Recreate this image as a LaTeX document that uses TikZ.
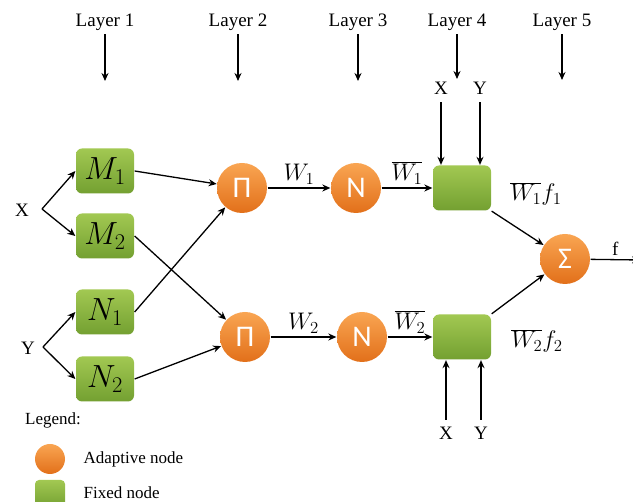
\documentclass[tikz,border=0pt]{standalone}
\usepackage{fix-cm}
\usepackage{fontspec}
\setmainfont{Liberation Serif}
\newfontfamily\opfont{Carlito}
\usetikzlibrary{arrows.meta}
\definecolor{adaptivetop}{HTML}{F9A552}
\definecolor{adaptivebot}{HTML}{E2701A}
\definecolor{fixedtop}{HTML}{A2C852}
\definecolor{fixedbot}{HTML}{73A031}
\tikzset{
	every path/.style={line width=1.3pt},
	adaptive/.style={
		circle,
		minimum size=50pt,
		inner sep=0pt,
		top color=adaptivetop,
		bottom color=adaptivebot,
		text=white,
		font=\opfont\fontsize{30}{30}\selectfont
	},
	fixed/.style={
		rectangle,
		rounded corners=6pt,
		minimum width=58pt,
		minimum height=45pt,
		inner sep=0pt,
		top color=fixedtop,
		bottom color=fixedbot,
		font=\fontsize{32}{32}\selectfont
	},
	link/.style={-{Stealth[length=8pt,width=7pt]}},
	layer/.style={font=\fontsize{19}{19}\selectfont},
	weight/.style={font=\fontsize{24}{24}\selectfont},
	key/.style={font=\fontsize{17}{17}\selectfont, anchor=west, inner sep=0pt},
}

\begin{document}
\begin{tikzpicture}[x=1pt,y=-1pt]
		\useasboundingbox (0,0) rectangle (633,502);

		% layers
		\node[layer] (lay1) at (105,22) {Layer 1};
		\node[layer] (lay2) at (238,22) {Layer 2};
		\node[layer] (lay3) at (358,22) {Layer 3};
		\node[layer] (lay4) at (457,22) {Layer 4};
		\node[layer] (lay5) at (562,22) {Layer 5};
		\coordinate (lay1e) at (105,81);
		\coordinate (lay2e) at (238,81);
		\coordinate (lay3e) at (358,81);
		\coordinate (lay4e) at (457,79);
		\coordinate (lay5e) at (562,80);
		\draw[link] (lay1) -- (lay1e);
		\draw[link] (lay2) -- (lay2e);
		\draw[link] (lay3) -- (lay3e);
		\draw[link] (lay4) -- (lay4e);
		\draw[link] (lay5) -- (lay5e);

		% inputs
		\node[layer] (x) at (22,210) {X};
		\node[layer] (y) at (28,348) {Y};
		\coordinate (xfork) at (42,209);
		\coordinate (yfork) at (43,347);

		\node[fixed] (m1) at (105,171) {$M_1$};
		\node[fixed] (m2) at (105,236) {$M_2$};
		\node[fixed] (n1) at (105,312) {$N_1$};
		\node[fixed] (n2) at (105,379) {$N_2$};

		\node[adaptive] (pi1) at (242,188) {Π};
		\node[adaptive] (pi2) at (245,337) {Π};
		\node[adaptive] (norm1) at (356,188) {N};
		\node[adaptive] (norm2) at (362,337) {N};

		\node[fixed] (rule1) at (462,188) {};
		\node[fixed] (rule2) at (462,337) {};

		\node[adaptive] (sum) at (565,259) {Σ};
		\coordinate (fout) at (640,260);

		\draw[link] (xfork) -- (m1.west);
		\draw[link] (xfork) -- (m2.west);
		\draw[link] (yfork) -- (n1.west);
		\draw[link] (yfork) -- (n2.west);

		\draw[link] (m1.east) -- (pi1);
		\draw[link] (n1.east) -- (pi1);
		\draw[link] (m2.east) -- (pi2);
		\draw[link] (n2.east) -- (pi2);

		\draw[link] (pi1) -- node[weight,above] {$W_1$} (norm1);
		\draw[link] (pi2) -- node[weight,above] {$W_2$} (norm2);
		\draw[link] (norm1) -- node[weight,above] {$\overline{W_1}$} (rule1);
		\draw[link] (norm2) -- node[weight,above] {$\overline{W_2}$} (rule2);

		\draw[link] (rule1.south east) -- (sum);
		\draw[link] (rule2.north east) -- (sum);
		\node[weight] (w1f1) at (536,194) {$\overline{W_1}f_1$};
		\node[weight] (w2f2) at (537,341) {$\overline{W_2}f_2$};
		\draw[link] (sum) -- node[layer,above] {f} (fout);

		% consequent inputs
		\node[layer] (x4) at (441,88) {X};
		\node[layer] (y4) at (480,88) {Y};
		\node[layer] (x5) at (446,433) {X};
		\node[layer] (y5) at (481,433) {Y};
		\draw[link,shorten <=4pt] (x4) -- (x4 |- rule1.north);
		\draw[link,shorten <=4pt] (y4) -- (y4 |- rule1.north);
		\draw[link,shorten <=3pt] (x5) -- (x5 |- rule2.south);
		\draw[link,shorten <=3pt] (y5) -- (y5 |- rule2.south);

		% legend
		\node[layer, font=\fontsize{17}{17}\selectfont] (legend) at (53,420) {Legend:};
		\node[adaptive, minimum size=30pt] (adkey) at (50,459) {};
		\node[fixed, minimum width=30pt, minimum height=28pt, rounded corners=4pt] (fixkey) at (50,494) {};
		\node[key] (adtext) at (83,459) {Adaptive node};
		\node[key] (fixtext) at (83,493) {Fixed node};
\end{tikzpicture}
\end{document}
